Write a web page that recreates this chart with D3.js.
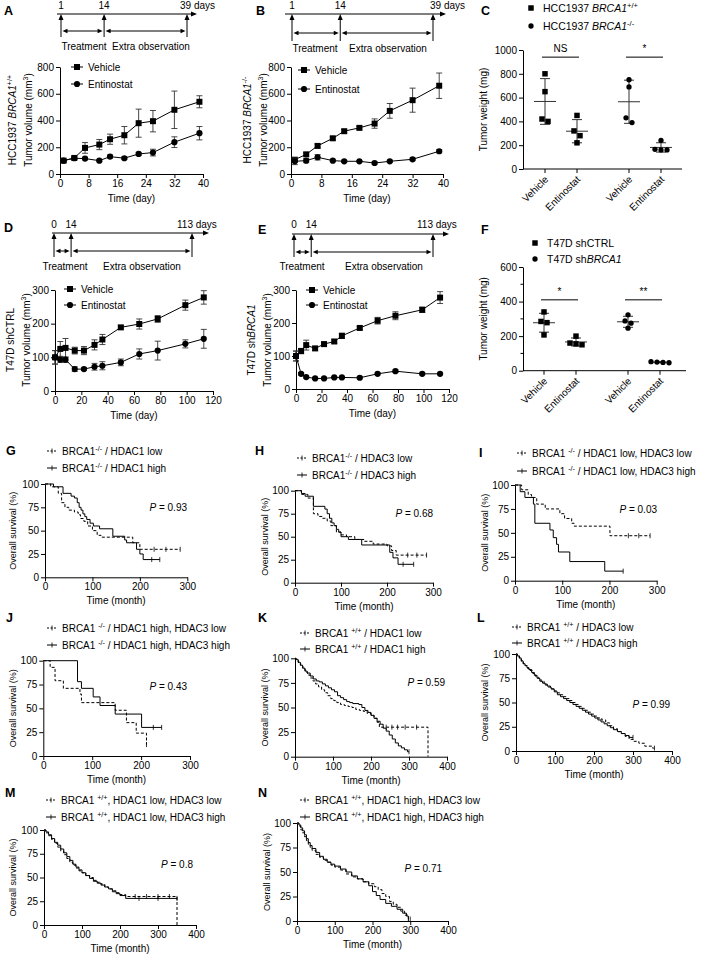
<!DOCTYPE html>
<html><head><meta charset="utf-8">
<script src="https://cdn.jsdelivr.net/npm/d3@7"></script>
<style>
body{margin:0;background:#fff}
svg{display:block}
text{font-family:"Liberation Sans",Arial,sans-serif;fill:#000}
</style>
</head><body>
<svg id="fig" width="705" height="973"></svg>
<script>
// ================= DATA =================
// A / B : HCC1937 xenografts (days)
const daysHCC = [1,4,7,11,14,18,22,26,32,39];
const aVehicle    = [100,120,195,220,260,290,380,395,480,540];
const aVehicleErr = [10,12,40,38,38,65,105,80,140,45];
const aEntino     = [100,118,115,100,130,118,150,160,238,305];
const aEntinoErr  = [8,10,10,8,12,10,12,25,40,50];
const bVehicle    = [107,147,210,267,320,345,377,472,552,660];
const bVehicleErr = [10,12,14,12,12,10,35,55,90,95];
const bEntino     = [95,100,125,100,95,95,82,95,110,170];
const bEntinoErr  = [25,15,20,8,8,6,8,8,10,12];
// D / E : T47D xenografts
const daysT47D = [0,4,8,15,22,30,36,50,64,78,99,113];
const dVehicle    = [100,125,128,120,120,137,153,189,199,214,255,278];
const dVehicleErr = [20,22,28,10,12,15,15,5,15,10,15,20];
const dEntino     = [100,93,93,65,65,72,75,85,110,120,140,155];
const dEntinoErr  = [20,8,8,7,4,10,12,10,15,28,12,28];
const eVehicle    = [100,115,133,123,136,144,161,185,207,222,240,277];
const eVehicleErr = [15,8,15,6,6,5,8,5,10,12,8,18];
const eEntino     = [100,46,36,32,32,35,35,34,46,54,46,46];
const eEntinoErr  = [15,4,3,3,3,3,3,3,3,4,3,3];
// C / F : tumor weights (mg)
const treatments = ['Vehicle','Entinostat'];
const cWTVehicle = [800,650,420,400];
const cWTEntino  = [450,320,280,220];
const cKOVehicle = [750,690,430,390];
const cKOEntino  = [240,160,165,160];
const fCtrlVehicle = [340,285,278,207];
const fCtrlEntino  = [200,160,155,150];
const fShVehicle   = [323,288,275,246];
const fShEntino    = [52,48,46,50];
const cSignif = ['NS','*'];
const fSignif = ['*','**'];
// Timelines
const tlHCC = [1,14,39];
const tlT47D = [0,14,113];
// Kaplan-Meier: [month, survival % after drop]
const gLow  = [[12,97],[28,90],[35,80],[42,75],[50,72],[62,70],[70,67],[75,63],[82,60],[90,55],[100,50],[110,45],[118,43],[185,37],[200,30]];
const gLowCens = [230,255,285];
const gHigh = [[18,97],[38,90],[55,87],[62,85],[68,80],[72,75],[76,72],[80,68],[84,65],[88,62],[95,58],[102,55],[115,52],[143,44],[168,40],[172,37],[193,30],[200,25],[207,19]];
const gHighCens = [225,242];
const hLow  = [[14,96],[28,92],[40,75],[50,72],[60,70],[70,67],[78,62],[90,55],[100,52],[112,50],[130,47],[150,45],[170,42],[200,40],[210,35],[220,30]];
const hLowCens = [245,265,286];
const hHigh = [[14,97],[22,94],[40,83],[65,80],[70,75],[75,70],[80,65],[85,62],[90,58],[95,55],[100,50],[116,47],[145,41],[206,33],[213,27],[224,20]];
const hHighCens = [235,258];
const iLL = [[14,95],[28,90],[35,87],[46,80],[64,75],[95,70],[105,65],[120,60],[125,57],[201,47]];
const iLLCens = [240,262,286];
const iLH = [[11,93],[21,87],[39,80],[42,60],[74,53],[81,45],[88,38],[92,30],[116,20],[190,10]];
const iLHCens = [229];
const jHL = [[14,93],[24,79],[41,71],[75,65],[78,56],[147,48],[170,35],[190,24],[211,12]];
const jHLCens = [211];
const jHH = [[70,78],[78,71],[102,62],[116,53],[147,44],[201,30]];
const jHHCens = [225,242];
const kLow  = [[3,98],[9,95],[15,92],[21,89],[27,86],[33,83],[40,80],[47,77],[54,74],[62,71],[70,68],[78,65],[86,62],[94,59],[102,57],[110,55],[120,53],[130,52],[140,51],[150,50],[160,48],[170,47],[180,46],[190,44],[200,42],[208,39],[216,35],[222,30],[350,0]];
const kLowCens = [240,255,270,290,320];
const kHigh = [[2,99],[8,96],[14,93],[20,90],[26,87],[32,85],[40,82],[48,79],[56,77],[64,76],[72,74],[80,72],[88,70],[96,68],[104,66],[112,62],[120,60],[128,58],[136,56],[144,55],[152,54],[168,53],[176,50],[184,47],[192,45],[200,42],[208,39],[216,36],[224,33],[232,29],[240,26],[248,22],[256,18],[264,14],[272,11],[280,9],[288,7],[296,5]];
const kHighCens = [300];
const lLow  = [[4,98],[9,95],[14,92],[19,90],[24,88],[30,85],[36,83],[43,80],[50,77],[57,75],[64,72],[72,69],[80,67],[88,64],[96,62],[104,60],[112,58],[120,56],[128,54],[136,52],[144,50],[152,48],[160,46],[168,44],[176,42],[184,40],[192,38],[200,36],[210,34],[220,32],[230,29],[240,26],[250,23],[260,20],[270,18],[280,15],[290,12],[300,10],[315,8],[330,5],[350,3]];
const lLowCens = [355];
const lHigh = [[3,98],[8,96],[13,93],[18,90],[23,88],[28,86],[33,84],[40,81],[47,78],[54,75],[61,72],[68,70],[75,68],[82,66],[90,64],[98,61],[106,58],[114,56],[122,54],[130,52],[138,50],[146,48],[154,46],[162,44],[170,42],[178,40],[186,38],[194,36],[202,34],[210,32],[218,30],[226,28],[234,26],[242,24],[250,22],[260,20],[270,18],[280,16],[290,14]];
const lHighCens = [300];
const mLL = [[5,97],[12,94],[20,90],[28,86],[36,82],[44,78],[52,74],[60,70],[68,66],[76,63],[84,60],[92,57],[100,55],[110,52],[120,50],[130,47],[140,45],[150,43],[160,40],[170,38],[180,36],[190,34],[200,32],[215,30],[350,0]];
const mLLCens = [240,270,300,330];
const mLH = [[5,98],[12,95],[20,91],[28,87],[36,84],[44,80],[52,76],[60,72],[68,68],[76,64],[84,61],[92,58],[100,55],[110,52],[120,49],[130,46],[140,44],[150,42],[160,40],[170,38],[180,35],[190,33],[200,31],[215,28]];
const mLHCens = [250,300,350];
const nHL = [[5,97],[10,93],[15,90],[20,86],[25,82],[30,78],[35,75],[40,72],[50,68],[60,65],[70,62],[80,60],[90,57],[100,55],[115,52],[130,48],[145,45],[160,43],[175,40],[190,38],[205,35],[215,32],[225,28],[235,25],[245,20],[255,17],[265,14],[275,10],[285,6],[295,2]];
const nHLCens = [300];
const nHH = [[5,98],[10,95],[15,92],[20,88],[25,84],[30,80],[35,77],[40,74],[50,70],[60,66],[70,63],[80,60],[90,58],[100,56],[115,53],[130,50],[145,46],[160,43],[175,40],[190,36],[200,30],[210,26],[220,22],[235,18],[250,15],[265,12],[280,8],[290,5],[295,0]];
const nHHCens = [];
const pValues = {G:'0.93',H:'0.68',I:'0.03',J:'0.43',K:'0.59',L:'0.99',M:'0.8',N:'0.71'};

// ================= HELPERS =================
const svg = d3.select('#fig');

function rich(parent, x, y, parts, size, anchor, transform){
  const t = parent.append('text').attr('x',x).attr('y',y).attr('font-size',size)
    .attr('text-anchor',anchor||'start');
  if(transform) t.attr('transform',transform);
  let cur = 0;
  parts.forEach(p=>{
    const o = typeof p==='string'?{t:p}:p;
    const ts = t.append('tspan').text(o.t);
    const target = o.sup ? -size*0.4 : 0;
    if(target!==cur){ ts.attr('dy', target-cur); cur = target; }
    if(o.sup) ts.attr('font-size', size*0.72);
    if(o.it) ts.attr('font-style','italic');
  });
  return t;
}
function letter(t,x,y){ svg.append('text').attr('x',x).attr('y',y).attr('font-size',12.5).attr('font-weight','bold').text(t); }
function styleAxis(g, fs){
  g.attr('font-family',null).attr('font-size',null);
  g.selectAll('text').attr('font-size',fs||10).attr('fill','#000');
  g.selectAll('path,line').attr('stroke','#000').attr('stroke-width',1);
}

function timeline(o){
  const x = d3.scaleLinear().domain([o.marks[0], o.marks[2]]).range([o.x0, o.x2]);
  const g = svg.append('g').attr('stroke','#000').attr('fill','#000');
  const ay = o.y;
  g.append('line').attr('x1',o.start).attr('x2',o.tip-4).attr('y1',ay).attr('y2',ay).attr('stroke-width',1);
  g.append('path').attr('d',`M${o.tip},${ay}L${o.tip-6},${ay-2.5}L${o.tip-6},${ay+2.5}Z`).attr('stroke','none');
  o.marks.forEach(m=>{
    const mx = x(m);
    g.append('line').attr('x1',mx).attr('x2',mx).attr('y1',ay+4).attr('y2',o.bottom).attr('stroke-width',1);
    g.append('path').attr('d',`M${mx},${ay}L${mx-2.5},${ay+6}L${mx+2.5},${ay+6}Z`).attr('stroke','none');
  });
  [[0,1],[1,2]].forEach(([a,b])=>{
    const xa = x(o.marks[a])+1.5, xb = x(o.marks[b])-1.5, yy = o.dy;
    g.append('line').attr('x1',xa+4).attr('x2',xb-4).attr('y1',yy).attr('y2',yy).attr('stroke-width',1);
    g.append('path').attr('d',`M${xa},${yy}L${xa+5},${yy-2.3}L${xa+5},${yy+2.3}Z`).attr('stroke','none');
    g.append('path').attr('d',`M${xb},${yy}L${xb-5},${yy-2.3}L${xb-5},${yy+2.3}Z`).attr('stroke','none');
  });
  o.marks.forEach((m,i)=>{
    const t = svg.append('text').attr('font-size',10).attr('y',o.labelY);
    if(i===2){ t.attr('x',x(m)-o.lastOff).text(m+' days'); }
    else t.attr('x',x(m)).attr('text-anchor','middle').text(m);
  });
  svg.append('text').attr('font-size',10).attr('x',o.treatX).attr('y',o.textY).attr('text-anchor','middle').text('Treatment');
  svg.append('text').attr('font-size',10).attr('x',o.extraX).attr('y',o.textY).attr('text-anchor','middle').text('Extra observation');
}

function growthPanel(o){
  const x = d3.scaleLinear().domain(o.xDomain).range(o.xRange);
  const y = d3.scaleLinear().domain(o.yDomain).range(o.yRange);
  const g = svg.append('g');
  g.append('g').attr('transform',`translate(0,${o.yRange[0]})`)
    .call(d3.axisBottom(x).tickValues(o.xTicks).tickSize(4).tickSizeOuter(0).tickPadding(2))
    .call(a=>styleAxis(a));
  g.append('g').attr('transform',`translate(${o.xRange[0]},0)`)
    .call(d3.axisLeft(y).tickValues(o.yTicks).tickSize(4).tickSizeOuter(0).tickPadding(2))
    .call(a=>styleAxis(a));
  g.append('text').attr('font-size',10).attr('x',(o.xRange[0]+o.xRange[1])/2).attr('y',o.yRange[0]+28)
    .attr('text-anchor','middle').text('Time (day)');
  o.series.forEach(s=>{
    const pts = o.days.map((d,i)=>({d, v:s.values[i], e:s.errors[i]}));
    const eb = g.append('g').attr('stroke','#333').attr('stroke-width',0.9);
    pts.forEach(p=>{
      const lo = Math.max(o.yDomain[0], p.v-p.e), hi = p.v+p.e;
      eb.append('line').attr('x1',x(p.d)).attr('x2',x(p.d)).attr('y1',y(lo)).attr('y2',y(hi));
      [lo,hi].forEach(v=>eb.append('line').attr('x1',x(p.d)-3).attr('x2',x(p.d)+3).attr('y1',y(v)).attr('y2',y(v)));
    });
    g.append('path').datum(pts).attr('fill','none').attr('stroke','#000').attr('stroke-width',1)
      .attr('d', d3.line().x(p=>x(p.d)).y(p=>y(p.v)));
    g.selectAll(null).data(pts).join('path')
      .attr('transform',p=>`translate(${x(p.d)},${y(p.v)})`)
      .attr('d', d3.symbol(s.shape, s.size)()).attr('fill','#000');
  });
  o.series.forEach((s,i)=>{
    const ly = o.legend.y + i*o.legend.dy;
    g.append('line').attr('x1',o.legend.x-6).attr('x2',o.legend.x+6).attr('y1',ly).attr('y2',ly).attr('stroke','#000');
    g.append('path').attr('transform',`translate(${o.legend.x},${ly})`).attr('d',d3.symbol(s.shape,s.size)());
    g.append('text').attr('font-size',10).attr('x',o.legend.x+11).attr('y',ly+3.6).text(s.name);
  });
}

function swarm(vals, y){
  const idx = vals.map((v,i)=>i).sort((a,b)=>vals[b]-vals[a]);
  const off = new Array(vals.length).fill(0);
  let cluster = [idx[0]];
  const flush = ()=>{ cluster.forEach((k,j)=>off[k]=(j-(cluster.length-1)/2)*6); };
  for(let j=1;j<idx.length;j++){
    if(Math.abs(y(vals[idx[j]])-y(vals[cluster[cluster.length-1]]))<5) cluster.push(idx[j]);
    else { flush(); cluster=[idx[j]]; }
  }
  flush();
  return off;
}

function scatterPanel(o){
  const y = d3.scaleLinear().domain(o.yDomain).range(o.yRange);
  const outer = d3.scalePoint().domain(o.groups.map(g=>g.name)).range(o.groupRange);
  const inner = d3.scalePoint().domain(treatments).range([-16,16]);
  const g = svg.append('g');
  const ax = g.append('g').attr('transform',`translate(${o.axisX},0)`)
    .call(d3.axisLeft(y).tickValues(o.yTicks).tickFormat(d3.format('d')).tickSize(4).tickSizeOuter(0).tickPadding(2));
  styleAxis(ax);
  if(o.minor){
    g.selectAll(null).data(o.minor).join('line').attr('x1',o.axisX-2.5).attr('x2',o.axisX)
      .attr('y1',d=>y(d)).attr('y2',d=>y(d)).attr('stroke','#000');
  }
  g.append('line').attr('x1',o.axisX).attr('x2',o.axisEnd).attr('y1',o.yRange[0]).attr('y2',o.yRange[0]).attr('stroke','#000');
  rich(g,0,0,['Tumor weight (mg)'],10,'middle',`translate(${o.labelX},${(o.yRange[0]+o.yRange[1])/2}) rotate(-90)`);
  o.groups.forEach((grp,gi)=>{
    treatments.forEach((tr,ti)=>{
      const cx = outer(grp.name)+inner(tr);
      const vals = grp.values[ti];
      g.append('line').attr('x1',cx).attr('x2',cx).attr('y1',o.yRange[0]).attr('y2',o.yRange[0]+4).attr('stroke','#000');
      g.append('text').attr('font-size',10).attr('text-anchor','end')
        .attr('transform',`translate(${cx+4},${o.yRange[0]+11}) rotate(-45)`).text(tr);
      const m = d3.mean(vals), sd = d3.deviation(vals);
      const st = g.append('g').attr('stroke','#333').attr('stroke-width',1);
      st.append('line').attr('x1',cx).attr('x2',cx).attr('y1',y(m-sd)).attr('y2',y(m+sd));
      st.append('line').attr('x1',cx-11).attr('x2',cx+11).attr('y1',y(m)).attr('y2',y(m));
      [m-sd,m+sd].forEach(v=>st.append('line').attr('x1',cx-5).attr('x2',cx+5).attr('y1',y(v)).attr('y2',y(v)));
      const off = swarm(vals,y);
      g.selectAll(null).data(vals).join('path')
        .attr('transform',(v,i)=>`translate(${cx+off[i]},${y(v)})`)
        .attr('d', d3.symbol(grp.shape, grp.size)());
    });
    const x1 = outer(grp.name)+inner('Vehicle')-3, x2 = outer(grp.name)+inner('Entinostat')+2;
    g.append('line').attr('x1',x1).attr('x2',x2).attr('y1',y(o.bracketV)).attr('y2',y(o.bracketV)).attr('stroke','#000');
    g.append('text').attr('font-size',10).attr('text-anchor','middle').attr('x',(x1+x2)/2).attr('y',y(o.bracketV)-5).text(o.signif[gi]);
  });
  o.groups.forEach((grp,gi)=>{
    const ly = o.legendY + gi*o.legendDy;
    g.append('path').attr('transform',`translate(${o.legendX},${ly})`).attr('d',d3.symbol(grp.shape,grp.size)());
    rich(g,o.legendX+12,ly+3.8,grp.label,10.5);
  });
}

function survAt(steps,t){ let s=100; steps.forEach(([tt,v])=>{ if(tt<=t) s=v; }); return s; }

function kmPanel(o){
  const x = d3.scaleLinear().domain([0,o.xMax]).range(o.xRange);
  const y = d3.scaleLinear().domain([0,100]).range(o.yRange);
  const g = svg.append('g');
  g.append('g').attr('transform',`translate(0,${o.yRange[0]})`)
    .call(d3.axisBottom(x).tickValues(d3.range(0,o.xMax+1,100)).tickSize(4).tickSizeOuter(0).tickPadding(2))
    .call(a=>styleAxis(a));
  g.append('g').attr('transform',`translate(${o.xRange[0]},0)`)
    .call(d3.axisLeft(y).tickValues([0,25,50,75,100]).tickSize(4).tickSizeOuter(0).tickPadding(2))
    .call(a=>styleAxis(a));
  g.append('text').attr('font-size',10).attr('text-anchor','middle')
    .attr('x',(o.xRange[0]+o.xRange[1])/2).attr('y',o.yRange[0]+27).text('Time (month)');
  g.append('text').attr('font-size',9).attr('text-anchor','middle')
    .attr('transform',`translate(${o.ylabX},${(o.yRange[0]+o.yRange[1])/2}) rotate(-90)`).text('Overall survival (%)');
  const line = d3.line().x(d=>x(d[0])).y(d=>y(d[1])).curve(d3.curveStepAfter);
  o.curves.forEach(c=>{
    const last = c.steps[c.steps.length-1];
    const end = Math.max(last[0], ...(c.cens.length?c.cens:[last[0]]));
    const pts = [[0,100], ...c.steps, [end, last[1]]];
    const p = g.append('path').attr('d',line(pts)).attr('fill','none').attr('stroke','#000').attr('stroke-width',1);
    if(c.dashed) p.attr('stroke-dasharray','3,2');
    c.cens.forEach(t=>{
      const s = survAt(c.steps,t);
      g.append('line').attr('x1',x(t)).attr('x2',x(t)).attr('y1',y(s)-2.5).attr('y2',y(s)+2.5).attr('stroke','#000').attr('stroke-width',0.8);
    });
  });
  const pt = g.append('text').attr('font-size',10).attr('text-anchor','end').attr('x',o.pX).attr('y',o.pY);
  pt.append('tspan').attr('font-style','italic').text('P');
  pt.append('tspan').text(' = '+o.p);
  o.curves.forEach((c,i)=>{
    const ly = o.legY + i*o.legDy;
    const l = g.append('line').attr('x1',o.legX).attr('x2',o.legX+10).attr('y1',ly).attr('y2',ly).attr('stroke','#000');
    if(c.dashed) l.attr('stroke-dasharray','2,1.5');
    g.append('line').attr('x1',o.legX+5).attr('x2',o.legX+5).attr('y1',ly-2.5).attr('y2',ly+2.5).attr('stroke','#000').attr('stroke-width',0.8);
    rich(g,o.legX+15,ly+3.6,c.label,10);
  });
}

// ================= DRAW =================
const sq = d3.symbolSquare, ci = d3.symbolCircle;
const KO = {t:'-/-',sup:true}, WT = {t:'+/+',sup:true};

// ---- A ----
letter('A',4,15);
timeline({marks:tlHCC,x0:61,x2:187,start:57,tip:197,y:14,bottom:37,dy:31,labelY:9,lastOff:7,treatX:84,extraX:151,textY:50});
growthPanel({xDomain:[0,40],xRange:[60,203],yDomain:[0,800],yRange:[174,67],xTicks:[0,8,16,24,32,40],yTicks:[0,200,400,600,800],
  days:daysHCC,legend:{x:77,y:67,dy:17},
  series:[{name:'Vehicle',values:aVehicle,errors:aVehicleErr,shape:sq,size:36},{name:'Entinostat',values:aEntino,errors:aEntinoErr,shape:ci,size:30}]});
rich(svg,0,0,['HCC1937 ',{t:'BRCA1',it:true},WT],10,'middle','translate(16,120) rotate(-90)');
rich(svg,0,0,['Tumor volume (mm',{t:'3',sup:true},')'],10,'middle','translate(32,120) rotate(-90)');

// ---- B ----
letter('B',256,15);
timeline({marks:tlHCC,x0:292,x2:433,start:285,tip:446,y:14,bottom:41,dy:33,labelY:9,lastOff:3,treatX:315,extraX:388,textY:52});
growthPanel({xDomain:[0,40],xRange:[291,443],yDomain:[0,800],yRange:[174,67],xTicks:[0,8,16,24,32,40],yTicks:[0,200,400,600,800],
  days:daysHCC,legend:{x:304,y:70,dy:19},
  series:[{name:'Vehicle',values:bVehicle,errors:bVehicleErr,shape:sq,size:36},{name:'Entinostat',values:bEntino,errors:bEntinoErr,shape:ci,size:30}]});
rich(svg,0,0,['HCC1937 ',{t:'BRCA1',it:true},KO],10,'middle','translate(251,120) rotate(-90)');
rich(svg,0,0,['Tumor volume (mm',{t:'3',sup:true},')'],10,'middle','translate(267,120) rotate(-90)');

// ---- C ----
letter('C',481,15);
scatterPanel({yDomain:[0,1000],yRange:[169,50],yTicks:[0,200,400,600,800,1000],axisX:523,axisEnd:682,groupRange:[561,645],
  labelX:487,bracketV:940,signif:cSignif,legendX:531,legendY:8,legendDy:18,
  groups:[{name:'WT',shape:sq,size:30,values:[cWTVehicle,cWTEntino],label:['HCC1937 ',{t:'BRCA1',it:true},WT]},
          {name:'KO',shape:ci,size:22,values:[cKOVehicle,cKOEntino],label:['HCC1937 ',{t:'BRCA1',it:true},KO]}]});

// ---- D ----
letter('D',4,232);
timeline({marks:tlT47D,x0:54,x2:192,start:52,tip:209,y:233,bottom:257,dy:251,labelY:228,lastOff:15,treatX:65,extraX:142,textY:270});
growthPanel({xDomain:[0,120],xRange:[55,213],yDomain:[0,300],yRange:[391,290],xTicks:[0,20,40,60,80,100,120],yTicks:[0,100,200,300],
  days:daysT47D,legend:{x:70,y:289,dy:16},
  series:[{name:'Vehicle',values:dVehicle,errors:dVehicleErr,shape:sq,size:36},{name:'Entinostat',values:dEntino,errors:dEntinoErr,shape:ci,size:30}]});
rich(svg,0,0,['T47D shCTRL'],10,'middle','translate(14,340) rotate(-90)');
rich(svg,0,0,['Tumor volume (mm',{t:'3',sup:true},')'],10,'middle','translate(30,340) rotate(-90)');

// ---- E ----
letter('E',258,234);
timeline({marks:tlT47D,x0:294,x2:433,start:292,tip:449,y:234,bottom:257,dy:252,labelY:228,lastOff:16,treatX:302,extraX:384,textY:270});
growthPanel({xDomain:[0,120],xRange:[296,449],yDomain:[0,300],yRange:[389,290],xTicks:[0,20,40,60,80,100,120],yTicks:[0,100,200,300],
  days:daysT47D,legend:{x:312,y:290,dy:15},
  series:[{name:'Vehicle',values:eVehicle,errors:eVehicleErr,shape:sq,size:36},{name:'Entinostat',values:eEntino,errors:eEntinoErr,shape:ci,size:30}]});
rich(svg,0,0,['T47D sh',{t:'BRCA1',it:true}],10,'middle','translate(255,340) rotate(-90)');
rich(svg,0,0,['Tumor volume (mm',{t:'3',sup:true},')'],10,'middle','translate(271,340) rotate(-90)');

// ---- F ----
letter('F',481,234);
scatterPanel({yDomain:[0,600],yRange:[370.7,267],yTicks:[0,200,400,600],minor:[100,300,500],axisX:523,axisEnd:686,groupRange:[560,644],
  labelX:487,bracketV:410,signif:fSignif,legendX:535,legendY:243,legendDy:16,
  groups:[{name:'ctrl',shape:sq,size:30,values:[fCtrlVehicle,fCtrlEntino],label:['T47D shCTRL']},
          {name:'sh',shape:ci,size:22,values:[fShVehicle,fShEntino],label:['T47D sh',{t:'BRCA1',it:true}]}]});

// ---- KM panels ----
letter('G',6,455);
kmPanel({xMax:300,xRange:[45,187.3],yRange:[577.3,484],ylabX:16,p:pValues.G,pX:187,pY:511,legX:47,legY:451,legDy:17,
  curves:[{steps:gLow,cens:gLowCens,dashed:true,label:['BRCA1',KO,' / HDAC1 low']},
          {steps:gHigh,cens:gHighCens,dashed:false,label:['BRCA1',KO,' / HDAC1 high']}]});
letter('H',255,455);
kmPanel({xMax:300,xRange:[295,433],yRange:[582.7,490.7],ylabX:268,p:pValues.H,pX:433,pY:517,legX:297,legY:458,legDy:17,
  curves:[{steps:hLow,cens:hLowCens,dashed:true,label:['BRCA1',KO,' / HDAC3 low']},
          {steps:hHigh,cens:hHighCens,dashed:false,label:['BRCA1',KO,' / HDAC3 high']}]});
letter('I',479,457);
kmPanel({xMax:300,xRange:[515,656.7],yRange:[580.7,485],ylabX:488,p:pValues.I,pX:657,pY:513,legX:517,legY:453,legDy:18,
  curves:[{steps:iLL,cens:iLLCens,dashed:true,label:['BRCA1 ',KO,' / HDAC1 low, HDAC3 low']},
          {steps:iLH,cens:iLHCens,dashed:false,label:['BRCA1 ',KO,' / HDAC1 low, HDAC3 high']}]});
letter('J',6,622);
kmPanel({xMax:300,xRange:[43.3,190],yRange:[756,660.7],ylabX:16,p:pValues.J,pX:187,pY:690,legX:47,legY:628,legDy:17,
  curves:[{steps:jHL,cens:jHLCens,dashed:true,label:['BRCA1 ',KO,' / HDAC1 high, HDAC3 low']},
          {steps:jHH,cens:jHHCens,dashed:false,label:['BRCA1 ',KO,' / HDAC1 high, HDAC3 high']}]});
letter('K',258,622);
kmPanel({xMax:400,xRange:[295,447],yRange:[756.7,658.3],ylabX:268,p:pValues.K,pX:445,pY:686,legX:300,legY:633,legDy:16,
  curves:[{steps:kLow,cens:kLowCens,dashed:true,label:['BRCA1 ',WT,' / HDAC1 low']},
          {steps:kHigh,cens:kHighCens,dashed:false,label:['BRCA1 ',WT,' / HDAC1 high']}]});
letter('L',477,622);
kmPanel({xMax:400,xRange:[516,672],yRange:[751,654],ylabX:488,p:pValues.L,pX:670,pY:708,legX:512,legY:627,legDy:16,
  curves:[{steps:lLow,cens:lLowCens,dashed:true,label:['BRCA1 ',WT,' / HDAC3 low']},
          {steps:lHigh,cens:lHighCens,dashed:false,label:['BRCA1 ',WT,' / HDAC3 high']}]});
letter('M',5,797);
kmPanel({xMax:400,xRange:[44,196],yRange:[925,830],ylabX:16,p:pValues.M,pX:193,pY:868,legX:46,legY:800,legDy:17,
  curves:[{steps:mLL,cens:mLLCens,dashed:true,label:['BRCA1 ',WT,', HDAC1 low, HDAC3 low']},
          {steps:mLH,cens:mLHCens,dashed:false,label:['BRCA1 ',WT,', HDAC1 low, HDAC3 high']}]});
letter('N',258,797);
kmPanel({xMax:400,xRange:[297,448],yRange:[921,823],ylabX:270,p:pValues.N,pX:442,pY:872,legX:300,legY:800,legDy:17,
  curves:[{steps:nHL,cens:nHLCens,dashed:true,label:['BRCA1 ',WT,', HDAC1 high, HDAC3 low']},
          {steps:nHH,cens:nHHCens,dashed:false,label:['BRCA1 ',WT,', HDAC1 high, HDAC3 high']}]});
</script>
</body></html>
